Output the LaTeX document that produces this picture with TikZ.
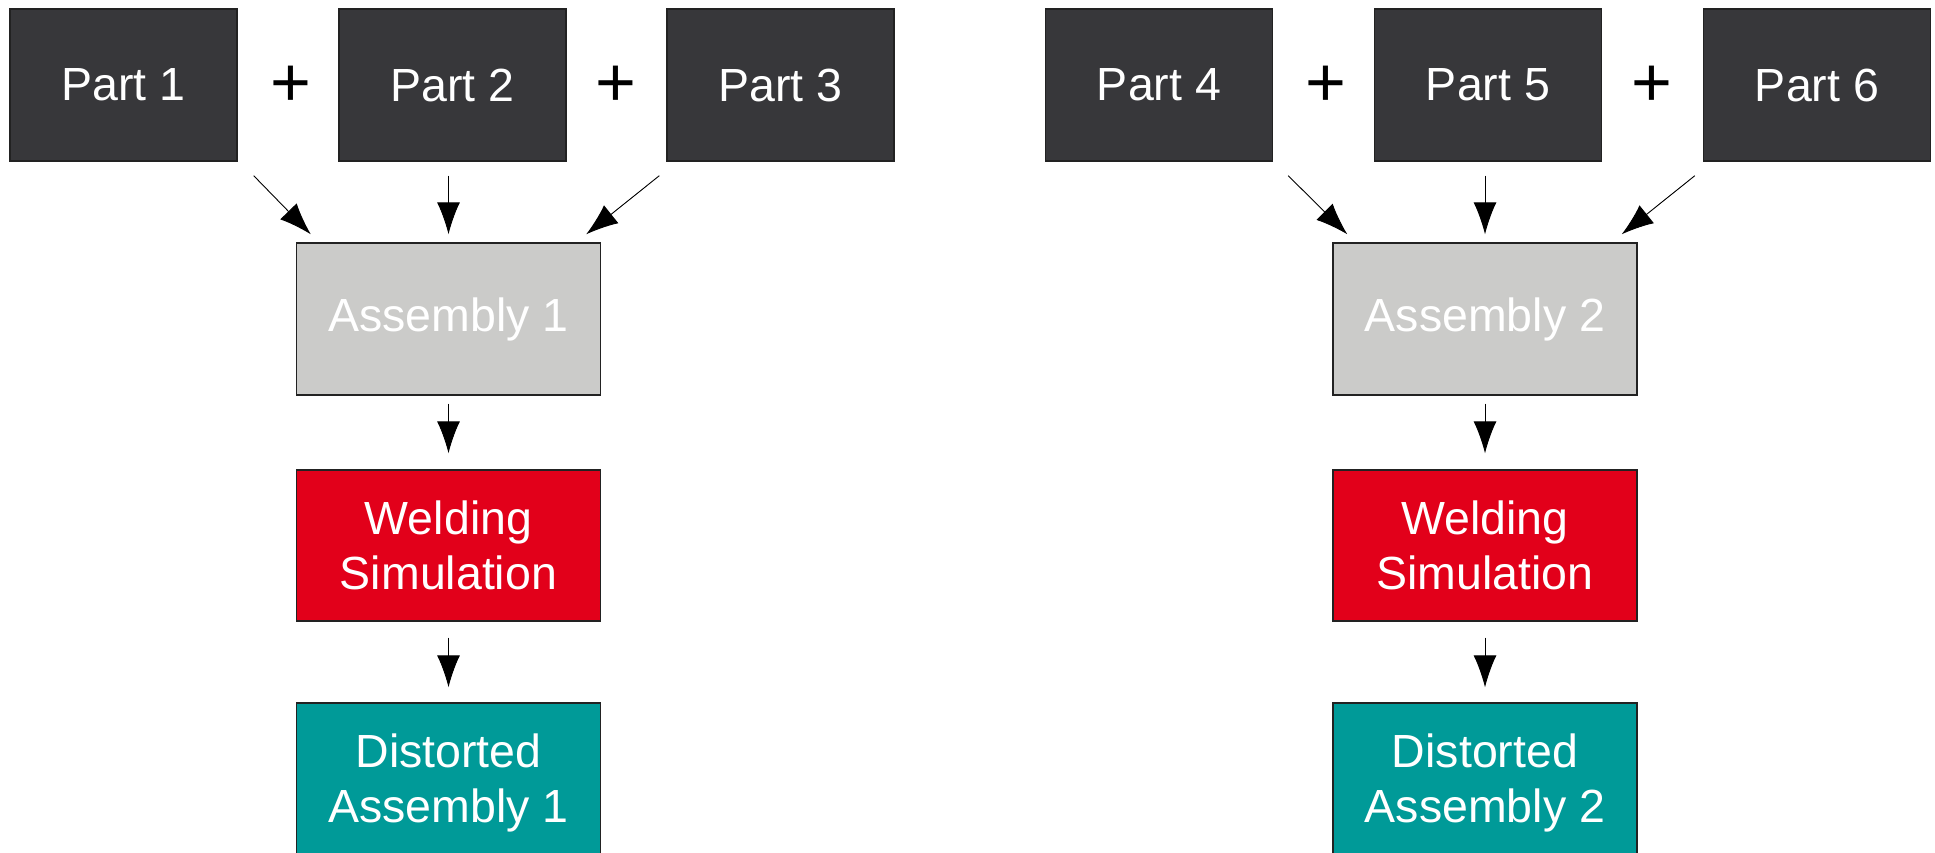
\documentclass[tikz,border=0pt]{standalone}
\usepackage{fontspec}
\setmainfont{Liberation Sans}
\usetikzlibrary{arrows.meta}
\definecolor{partc}{HTML}{37373A}
\definecolor{asmc}{HTML}{CBCBC9}
\definecolor{weldc}{HTML}{E2001A}
\definecolor{distc}{HTML}{009A98}
\definecolor{edgec}{HTML}{222222}
\tikzset{
  boxbase/.style={draw=edgec, line width=1.4pt, inner sep=0pt, align=center,
    text=white, font=\fontsize{46.5}{55}\selectfont},
  partbox/.style={boxbase, fill=partc, minimum width=227pt, minimum height=152pt},
  asmbox/.style={boxbase, fill=asmc, minimum width=304pt, minimum height=152pt},
  weldbox/.style={boxbase, fill=weldc, minimum width=304pt, minimum height=151pt},
  distbox/.style={boxbase, fill=distc, minimum width=304pt, minimum height=160pt},
  plussign/.style={inner sep=0pt, font=\fontsize{70}{70}\selectfont},
  arr/.style={line width=0.9pt, -{Latex[length=32pt,width=23pt]}}
}
\begin{document}
\begin{tikzpicture}[x=1pt,y=-1pt]
\clip (0,0) rectangle (1935,852);
\fill[white] (0,0) rectangle (1935,852);
% left group
\node[partbox] (p1) at (123.5,85) {Part 1};
\node[partbox] (p2) at (452.5,85) {Part 2};
\node[partbox] (p3) at (780.5,85) {Part 3};
\node[plussign] (plus1) at (291,86) {+};
\node[plussign] (plus2) at (616,86) {+};
\node[asmbox] (a1) at (448.5,319) {Assembly 1};
\node[weldbox] (w1) at (448.5,545.5) {Welding\\Simulation};
\node[distbox] (d1) at (448.5,783) {Distorted\\Assembly 1};
% right group
\node[partbox] (p4) at (1159,85) {Part 4};
\node[partbox] (p5) at (1488,85) {Part 5};
\node[partbox] (p6) at (1817,85) {Part 6};
\node[plussign] (plus3) at (1326,86) {+};
\node[plussign] (plus4) at (1652,86) {+};
\node[asmbox] (a2) at (1485,319) {Assembly 2};
\node[weldbox] (w2) at (1485,545.5) {Welding\\Simulation};
\node[distbox] (d2) at (1485,783) {Distorted\\Assembly 2};
% arrows left
\draw[arr] ([shift={(16,14)}]p1.south east) -- ([shift={(15,-8)}]a1.north west);
\draw[arr] ([shift={(0,14)}]a1.north |- p2.south) -- ([shift={(0,-8)}]a1.north);
\draw[arr] ([shift={(-7,14)}]p3.south west) -- ([shift={(-15,-8)}]a1.north east);
\draw[arr] ([shift={(0,8)}]a1.south) -- ([shift={(0,-16)}]w1.north);
\draw[arr] ([shift={(0,16)}]w1.south) -- ([shift={(0,-15)}]d1.north);
% arrows right
\draw[arr] ([shift={(15,14)}]p4.south east) -- ([shift={(15,-8)}]a2.north west);
\draw[arr] ([shift={(0,14)}]a2.north |- p5.south) -- ([shift={(0,-8)}]a2.north);
\draw[arr] ([shift={(-8,14)}]p6.south west) -- ([shift={(-16,-8)}]a2.north east);
\draw[arr] ([shift={(0,8)}]a2.south) -- ([shift={(0,-16)}]w2.north);
\draw[arr] ([shift={(0,16)}]w2.south) -- ([shift={(0,-15)}]d2.north);
\end{tikzpicture}
\end{document}
